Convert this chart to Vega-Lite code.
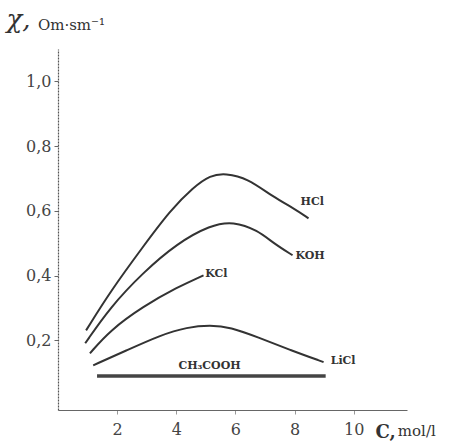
{
  "$schema": "https://vega.github.io/schema/vega-lite/v6.json",
  "width": 349,
  "height": 361,
  "autosize": "none",
  "padding": {"left": 58, "top": 49, "right": 60, "bottom": 31},
  "background": "white",
  "config": {"view": {"stroke": null}, "font": "DejaVu Serif"},
  "datasets": {
    "curves": [
      {"series": "HCl", "C": 0.95, "chi": 0.231},
      {"series": "HCl", "C": 1.76, "chi": 0.350},
      {"series": "HCl", "C": 2.88, "chi": 0.490},
      {"series": "HCl", "C": 3.80, "chi": 0.602},
      {"series": "HCl", "C": 4.58, "chi": 0.673},
      {"series": "HCl", "C": 5.15, "chi": 0.710},
      {"series": "HCl", "C": 5.66, "chi": 0.716},
      {"series": "HCl", "C": 6.41, "chi": 0.701},
      {"series": "HCl", "C": 7.29, "chi": 0.642},
      {"series": "HCl", "C": 7.97, "chi": 0.608},
      {"series": "HCl", "C": 8.47, "chi": 0.577},
      {"series": "KOH", "C": 0.92, "chi": 0.191},
      {"series": "KOH", "C": 1.76, "chi": 0.302},
      {"series": "KOH", "C": 2.88, "chi": 0.410},
      {"series": "KOH", "C": 4.03, "chi": 0.500},
      {"series": "KOH", "C": 5.15, "chi": 0.556},
      {"series": "KOH", "C": 5.93, "chi": 0.568},
      {"series": "KOH", "C": 6.75, "chi": 0.540},
      {"series": "KOH", "C": 7.29, "chi": 0.500},
      {"series": "KOH", "C": 7.93, "chi": 0.463},
      {"series": "KCl", "C": 1.08, "chi": 0.160},
      {"series": "KCl", "C": 1.76, "chi": 0.231},
      {"series": "KCl", "C": 2.88, "chi": 0.305},
      {"series": "KCl", "C": 4.03, "chi": 0.364},
      {"series": "KCl", "C": 4.92, "chi": 0.401},
      {"series": "LiCl", "C": 1.19, "chi": 0.123},
      {"series": "LiCl", "C": 2.34, "chi": 0.170},
      {"series": "LiCl", "C": 3.46, "chi": 0.216},
      {"series": "LiCl", "C": 4.37, "chi": 0.241},
      {"series": "LiCl", "C": 5.15, "chi": 0.247},
      {"series": "LiCl", "C": 5.83, "chi": 0.241},
      {"series": "LiCl", "C": 6.75, "chi": 0.210},
      {"series": "LiCl", "C": 7.86, "chi": 0.170},
      {"series": "LiCl", "C": 8.98, "chi": 0.133},
      {"series": "CH3COOH", "C": 1.32, "chi": 0.09},
      {"series": "CH3COOH", "C": 9.05, "chi": 0.09}
    ],
    "labels": [
      {"name": "HCl", "C": 8.2, "chi": 0.627},
      {"name": "KOH", "C": 8.03, "chi": 0.46},
      {"name": "KCl", "C": 4.98, "chi": 0.404},
      {"name": "LiCl", "C": 9.22, "chi": 0.136},
      {"name": "CH₃COOH", "C": 4.07, "chi": 0.12}
    ],
    "units": [
      {"name": "mol/l", "C": 11.49, "chi": -0.094},
      {"name": "Om·sm⁻¹", "C": -0.68, "chi": 1.158}
    ]
  },
  "encoding": {
    "x": {
      "field": "C", "type": "quantitative",
      "scale": {"domain": [0, 11.8], "nice": false, "zero": false},
      "axis": {
        "values": [2, 4, 6, 8, 10],
        "title": "C,",
        "titleFont": "DejaVu Serif", "titleFontSize": 18, "titleFontWeight": "bold", "titleColor": "#333",
        "titleAnchor": "start", "titleAlign": "left", "titleBaseline": "alphabetic",
        "titleX": 317, "titleY": 27, "titleAngle": 0,
        "labelFont": "DejaVu Serif", "labelFontSize": 16, "labelColor": "#444",
        "labelPadding": 7, "tickSize": 4, "tickColor": "#999",
        "domainColor": "#666", "domainWidth": 1, "grid": false,
        "labelFlush": false
      }
    },
    "y": {
      "field": "chi", "type": "quantitative",
      "scale": {"domain": [-0.015, 1.1], "nice": false, "zero": false},
      "axis": {
        "values": [0.2, 0.4, 0.6, 0.8, 1.0],
        "labelExpr": "replace(format(datum.value, '.1f'), '.', ',')",
        "title": "χ,",
        "titleFont": "DejaVu Serif", "titleFontSize": 26, "titleFontWeight": "normal", "titleFontStyle": "italic", "titleColor": "#333",
        "titleAngle": 0, "titleAlign": "left", "titleBaseline": "alphabetic",
        "titleX": -52, "titleY": -22,
        "labelFont": "DejaVu Serif", "labelFontSize": 16, "labelColor": "#444",
        "labelPadding": 3, "tickSize": 4, "tickColor": "#666",
        "domainColor": "#555", "domainDash": [2, 1], "domainWidth": 1.2, "grid": false
      }
    }
  },
  "layer": [
    {
      "data": {"name": "curves"},
      "transform": [{"filter": "datum.series != 'CH3COOH'"}],
      "mark": {"type": "line", "interpolate": "basis", "strokeWidth": 2, "color": "#333"},
      "encoding": {"detail": {"field": "series"}}
    },
    {
      "data": {"name": "curves"},
      "transform": [{"filter": "datum.series == 'CH3COOH'"}],
      "mark": {"type": "line", "strokeWidth": 3.5, "color": "#444"},
      "encoding": {"detail": {"field": "series"}}
    },
    {
      "data": {"name": "labels"},
      "mark": {"type": "text", "align": "left", "baseline": "middle", "fontSize": 11, "fontWeight": "bold", "font": "DejaVu Serif", "color": "#333"},
      "encoding": {"text": {"field": "name"}}
    },
    {
      "data": {"name": "units"},
      "mark": {"type": "text", "align": "left", "baseline": "alphabetic", "fontSize": 15, "font": "DejaVu Serif", "color": "#333"},
      "encoding": {"text": {"field": "name"}}
    }
  ]
}
